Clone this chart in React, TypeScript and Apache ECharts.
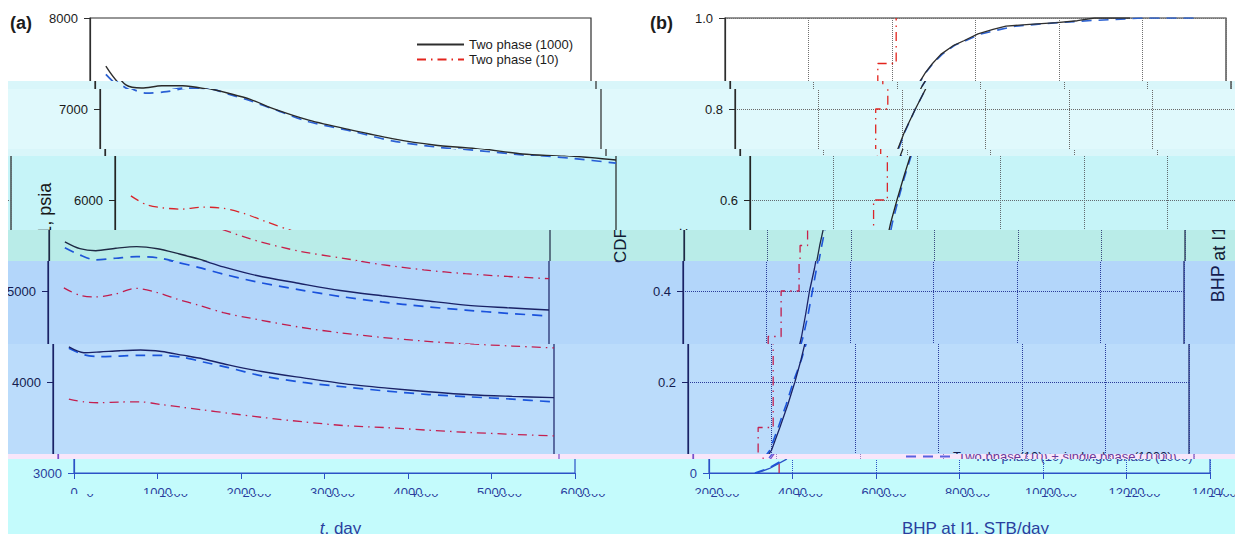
import React, { useEffect, useRef } from "react";
import * as echarts from "echarts";

const FONT = "'Liberation Sans', Arial, Helvetica, sans-serif";
const PAGE_W = 1235;
const PAGE_H = 534;
const WRAP = 1240;

// Series names
const NAME_FINE = "Two phase (1000)";
const NAME_COARSE = "Two phase (10)";
const NAME_MIXED = "Two phase (10) + single phase (1000)";

// Panel (a): BHP at I1 (psia) against time, upper / middle / lower envelopes
const tDay = [190, 370, 560, 800, 1050, 1300, 1550, 1800, 2100, 2500, 3000, 3500, 4000, 4500, 5000, 5500, 6000];
const fineHi = [7470, 7265, 7230, 7255, 7255, 7225, 7170, 7105, 6995, 6877, 6770, 6675, 6605, 6565, 6505, 6480, 6440];
const fineMid = [5540, 5465, 5443, 5470, 5488, 5465, 5410, 5350, 5265, 5170, 5085, 5005, 4948, 4896, 4845, 4816, 4791];
const fineLo = [4385, 4322, 4330, 4344, 4352, 4335, 4295, 4253, 4188, 4115, 4045, 3980, 3933, 3893, 3860, 3842, 3828];
const mixedHi = [7380, 7230, 7175, 7190, 7230, 7225, 7160, 7090, 6990, 6860, 6760, 6650, 6585, 6540, 6495, 6455, 6405];
const mixedMid = [5475, 5395, 5342, 5360, 5378, 5365, 5315, 5260, 5185, 5100, 5015, 4940, 4880, 4830, 4790, 4755, 4725];
const mixedLo = [4370, 4300, 4278, 4285, 4293, 4292, 4272, 4220, 4158, 4068, 3995, 3945, 3900, 3862, 3836, 3812, 3780];
const coarseHi = [6045, 5950, 5915, 5900, 5922, 5908, 5850, 5765, 5668, 5548, 5437, 5363, 5290, 5232, 5190, 5160, 5135];
const coarseMid = [5035, 4956, 4935, 4965, 5030, 4985, 4910, 4845, 4762, 4688, 4605, 4540, 4490, 4450, 4418, 4395, 4374];
const coarseLo = [3813, 3782, 3772, 3780, 3781, 3752, 3722, 3693, 3657, 3612, 3562, 3520, 3498, 3470, 3445, 3425, 3407];

// Panel (b): empirical CDF of BHP at I1
const cdfLevel = [0, 0.01, 0.03, 0.05, 0.1, 0.15, 0.2, 0.25, 0.3, 0.35, 0.4, 0.45, 0.5, 0.55, 0.6, 0.65, 0.7, 0.75, 0.8, 0.85, 0.88, 0.9, 0.92, 0.94, 0.95, 0.965, 0.975, 0.982, 0.986, 0.99, 0.994, 1.0, 1.0];
const cdfFine = [3150, 3450, 3850, 4000, 4200, 4390, 4560, 4710, 4840, 4940, 5030, 5150, 5250, 5370, 5520, 5680, 5850, 6060, 6320, 6600, 6800, 6970, 7170, 7480, 7720, 8060, 8420, 8730, 9300, 9950, 10440, 10850, 11700];
const cdfMixed = [3100, 3420, 3800, 3960, 4160, 4350, 4520, 4720, 4880, 5000, 5100, 5200, 5300, 5410, 5550, 5700, 5870, 6070, 6320, 6600, 6810, 6980, 7200, 7500, 7760, 8130, 8600, 8950, 9450, 10000, 10700, 12000, 13300];
const coarseSamples = [3680, 4040, 4040, 4350, 4780, 4960, 5290, 5370, 5660, 6100];

// Tick definitions
const tTicks = { min: 0, max: 6000, step: 1000 };
const pTicks = { min: 3000, max: 8000, step: 1000 };
const qTicks = { min: 2000, max: 14000, step: 2000 };
const cTicks = { min: 0, max: 1, step: 0.2 };

// Plot rectangles (pixels)
const GA = { left: 90, top: 18, width: 501, height: 455 };
const GB = { left: 725, top: 18, width: 501, height: 455 };

type Palette = { bg: string; ink: string; text: string; red: string; blue: string; grid: string };
type View = { x0: number; x1: number; y0: number; y1: number };

const paper: Palette = { bg: "#ffffff", ink: "#2e2e2e", text: "#1c1c1c", red: "#e3241d", blue: "#2c62d2", grid: "#707070" };
const ice: Palette = { bg: "#e0f9fc", ink: "#2a2a2a", text: "#1a1a1a", red: "#e02420", blue: "#2a60d4", grid: "#6a6a6a" };
const ice2: Palette = { bg: "#d9f6fa", ink: "#2a2a2a", text: "#1a1a1a", red: "#e02420", blue: "#2a60d4", grid: "#6a6a6a" };
const aqua: Palette = { bg: "#c6f4f8", ink: "#242424", text: "#181818", red: "#d9242a", blue: "#275ed6", grid: "#626a70" };
const mint: Palette = { bg: "#b9ece8", ink: "#1e2a44", text: "#121c34", red: "#c8204a", blue: "#1f56d8", grid: "#3a4a80" };
const sky: Palette = { bg: "#b3d6fa", ink: "#1a2266", text: "#141c50", red: "#c01c4c", blue: "#1a52dc", grid: "#2a3c9a" };
const sky2: Palette = { bg: "#bbdcfb", ink: "#1a2266", text: "#141c50", red: "#c42050", blue: "#1a55dc", grid: "#2a3c9a" };
const blush: Palette = { bg: "#f8e6fa", ink: "#7a50c8", text: "#6a3a9a", red: "#d03070", blue: "#5a60e0", grid: "#9a80c0" };
const cyan: Palette = { bg: "#c4fbfc", ink: "#2c52c6", text: "#2a3e9e", red: "#c02050", blue: "#1a55e0", grid: "#2c52c6" };

// Horizontal bands of the page, each drawn with its own shift and tint
const bands = [
  { y0: 0, y1: 81, dx: 0, pal: paper },
  { y0: 81, y1: 89, dx: 5, pal: ice2 },
  { y0: 89, y1: 149, dx: 10, pal: ice },
  { y0: 149, y1: 156, dx: 15, pal: ice2 },
  { y0: 156, y1: 230, dx: 25, pal: aqua },
  { y0: 230, y1: 261, dx: -41, pal: mint },
  { y0: 261, y1: 344, dx: -42, pal: sky },
  { y0: 344, y1: 454, dx: -37, pal: sky2 },
  { y0: 454, y1: 459, dx: -32, pal: blush },
  { y0: 459, y1: 494, dx: -16, pal: cyan },
  { y0: 494, y1: 534, dx: 0, pal: cyan },
];

function stairs(samples: number[]) {
  const n = samples.length;
  const pts: number[][] = [[samples[0], 0]];
  samples.forEach((s, i) => {
    pts.push([s, (i + 1) / n]);
    if (i < n - 1) pts.push([samples[i + 1], (i + 1) / n]);
  });
  return pts;
}

function buildOption(p: Palette, view: View) {
  const seen = (ax0: number, ax1: number, ay0: number, ay1: number) =>
    ax1 > view.x0 && ax0 < view.x1 && ay1 > view.y0 && ay0 < view.y1;

  // pixel positions of the y tick labels, used to skip texts that fall outside this slice
  const yA = (v: number) => GA.top + GA.height - ((Number(v) - pTicks.min) / (pTicks.max - pTicks.min)) * GA.height;
  const yB = (c: number) => GB.top + GB.height - ((Number(c) - cTicks.min) / (cTicks.max - cTicks.min)) * GB.height;
  const showXLabels = seen(60, 1240, 482, 504) && view.x0 < 100;
  const xNameShown = seen(60, 1240, 515, 545) && view.x0 < 300;

  const axisLine = { show: true, onZero: false, lineStyle: { color: p.ink, width: 1.2 } };
  const axisTick = { show: true, inside: false, length: 6, lineStyle: { color: p.ink, width: 1 } };
  const labelX = {
    show: showXLabels, color: p.text, fontSize: 13, fontFamily: FONT, margin: 13,
    formatter: (v: number) => String(v),
  };
  const labelY = { color: p.text, fontSize: 13, fontFamily: FONT, margin: 12 };
  const nameStyle = { color: p.text, fontSize: 17, fontFamily: FONT };
  const dotted = { show: true, lineStyle: { type: "dotted" as const, color: p.grid, width: 1 } };

  const solid = { color: p.ink, width: 1.4, type: "solid" as const };
  const dashed = { color: p.blue, width: 1.7, type: [10, 7] };
  const dashDot = { color: p.red, width: 1.3, type: [9, 5, 1.5, 5] };

  const timeLine = (name: string, vals: number[], style: any, z: number) => ({
    type: "line",
    name,
    xAxisIndex: 0,
    yAxisIndex: 0,
    data: tDay.map((t, i) => [t, vals[i]]),
    symbol: "none",
    smooth: 0.3,
    color: style.color,
    itemStyle: { opacity: 0 },
    lineStyle: style,
    z,
    silent: true,
  });
  const cdfLine = (name: string, data: number[][], style: any, z: number) => ({
    type: "line",
    name,
    xAxisIndex: 1,
    yAxisIndex: 1,
    data,
    symbol: "none",
    color: style.color,
    itemStyle: { opacity: 0 },
    lineStyle: style,
    z,
    silent: true,
  });

  const legendBase = {
    orient: "vertical",
    itemWidth: 47,
    itemHeight: 14,
    itemGap: 2,
    selectedMode: false,
    itemStyle: { opacity: 0 },
    textStyle: { color: p.text, fontSize: 13, fontFamily: FONT },
  };

  const graphic: any[] = [];
  if (seen(8, 36, 8, 34))
    graphic.push({ type: "text", left: 10, top: 14, silent: true, style: { text: "(a)", fontSize: 18, fontWeight: "bold", fontFamily: FONT, fill: p.text } });
  if (seen(648, 676, 8, 34))
    graphic.push({ type: "text", left: 650, top: 14, silent: true, style: { text: "(b)", fontSize: 18, fontWeight: "bold", fontFamily: FONT, fill: p.text } });

  const gridBase = {
    show: true, borderColor: p.ink, borderWidth: 1.2, backgroundColor: "transparent",
    containLabel: false, outerBoundsMode: "none",
  };

  return {
    animation: false,
    textStyle: { fontFamily: FONT },
    grid: [
      { ...gridBase, ...GA },
      { ...gridBase, ...GB },
    ],
    xAxis: [
      {
        gridIndex: 0, type: "value", min: tTicks.min, max: tTicks.max, interval: tTicks.step,
        name: xNameShown ? "{it|t}, day" : "", nameLocation: "middle", nameGap: 47, nameMoveOverlap: false,
        nameTextStyle: { ...nameStyle, rich: { it: { ...nameStyle, fontStyle: "italic" } } },
        axisLine, axisTick, axisLabel: labelX,
        splitLine: { show: false },
      },
      {
        gridIndex: 1, type: "value", min: qTicks.min, max: qTicks.max, interval: qTicks.step,
        name: xNameShown ? "BHP at I1, STB/day" : "", nameLocation: "middle", nameGap: 47, nameMoveOverlap: false,
        nameTextStyle: nameStyle,
        axisLine, axisTick, axisLabel: labelX,
        splitLine: dotted,
      },
    ],
    yAxis: [
      {
        gridIndex: 0, type: "value", min: pTicks.min, max: pTicks.max, interval: pTicks.step,
        name: seen(6, 34, 170, 320) ? "BHP at I1, psia" : "", nameLocation: "middle", nameGap: 61, nameMoveOverlap: false,
        nameTextStyle: { ...nameStyle, fontSize: 18, padding: [0, 0, 0, 6] },
        axisLine, axisTick,
        axisLabel: { ...labelY, formatter: (v: number) => (seen(40, 82, yA(v) - 9, yA(v) + 9) ? String(v) : "") },
        splitLine: { show: false },
      },
      {
        gridIndex: 1, type: "value", min: cTicks.min, max: cTicks.max, interval: cTicks.step,
        name: seen(650, 674, 222, 270) ? "CDF" : "", nameLocation: "middle", nameGap: 55, nameMoveOverlap: false,
        nameTextStyle: nameStyle,
        axisLine, axisTick,
        axisLabel: {
          ...labelY,
          formatter: (v: number) => (seen(684, 716, yB(v) - 9, yB(v) + 9) ? (Number(v) === 0 ? "0" : Number(v).toFixed(1)) : ""),
        },
        splitLine: dotted,
      },
    ],
    legend: [
      { ...legendBase, show: seen(405, 585, 30, 64), left: 411, top: 33, data: [NAME_FINE, NAME_COARSE] },
      { ...legendBase, show: seen(925, 1200, 442, 462), left: 932, top: 445, data: [NAME_MIXED] },
    ],
    graphic,
    series: [
      timeLine(NAME_MIXED, mixedHi, dashed, 2),
      timeLine(NAME_MIXED, mixedMid, dashed, 2),
      timeLine(NAME_MIXED, mixedLo, dashed, 2),
      timeLine(NAME_FINE, fineHi, solid, 3),
      timeLine(NAME_FINE, fineMid, solid, 3),
      timeLine(NAME_FINE, fineLo, solid, 3),
      timeLine(NAME_COARSE, coarseHi, dashDot, 2),
      timeLine(NAME_COARSE, coarseMid, dashDot, 2),
      timeLine(NAME_COARSE, coarseLo, dashDot, 2),
      cdfLine(NAME_MIXED, cdfLevel.map((c, i) => [cdfMixed[i], c]), { ...dashed, width: 1.6 }, 2),
      cdfLine(NAME_FINE, cdfLevel.map((c, i) => [cdfFine[i], c]), { ...solid, width: 1.3 }, 3),
      cdfLine(NAME_COARSE, stairs(coarseSamples), dashDot, 2),
    ],
  };
}

function ChartCopy({ left, top, pal, view }: { left: number; top: number; pal: Palette; view: View }) {
  const ref = useRef<HTMLDivElement>(null);
  useEffect(() => {
    if (!ref.current) return;
    const chart = echarts.init(ref.current, undefined, { renderer: "svg", width: WRAP, height: PAGE_H });
    chart.setOption(buildOption(pal, view) as any);
    return () => chart.dispose();
  }, [pal, view.x0, view.x1, view.y0, view.y1]);
  return <div ref={ref} style={{ position: "absolute", left, top, width: WRAP, height: PAGE_H }} />;
}

function Band({ y0, y1, dx, pal }: { y0: number; y1: number; dx: number; pal: Palette }) {
  const innerW = PAGE_W - 8;
  const lefts = [-1, 0, 1]
    .map((k) => dx - 8 + k * WRAP)
    .filter((l) => l < innerW && l + WRAP > 0);
  return (
    <div
      style={{
        position: "absolute", left: 8, top: y0, width: innerW, height: y1 - y0,
        overflow: "hidden", background: pal.bg,
      }}
    >
      {lefts.map((l) => (
        <ChartCopy key={l} left={l} top={-y0} pal={pal} view={{ x0: -l, x1: innerW - l, y0, y1 }} />
      ))}
    </div>
  );
}

export default function App() {
  return (
    <div style={{ position: "absolute", left: 0, top: 0, width: PAGE_W, height: PAGE_H, overflow: "hidden", background: "#ffffff" }}>
      {bands.map((b, i) => (
        <Band key={i} {...b} />
      ))}
    </div>
  );
}
